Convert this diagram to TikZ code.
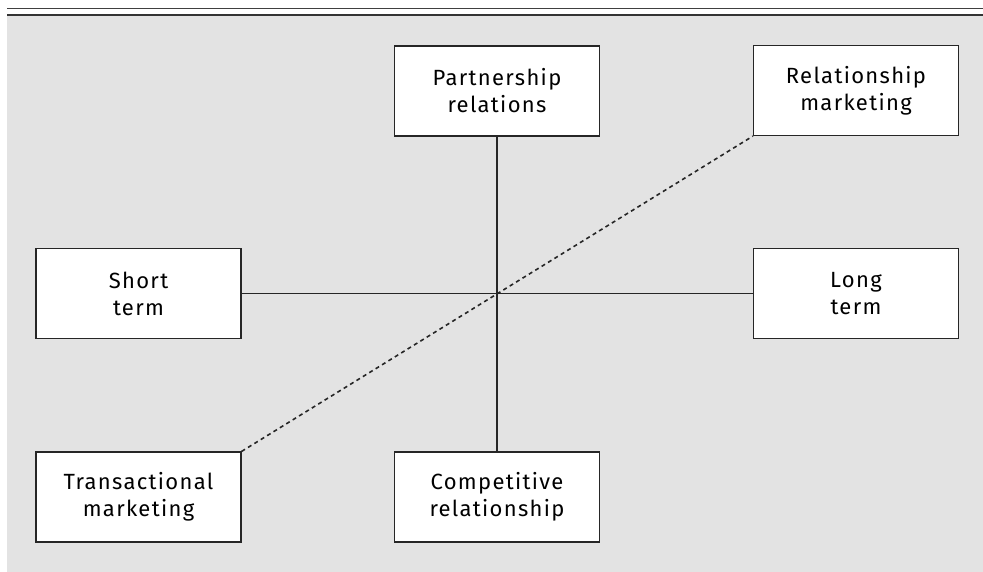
\documentclass[tikz,border=0pt]{standalone}
\usepackage{fontspec}
\setmainfont{Fira Sans}[LetterSpace=6]
\begin{document}
\begin{tikzpicture}[x=1pt,y=-1pt,
  box/.style={draw=black!85,fill=white,line width=1.2pt,minimum width=205pt,
    minimum height=90pt,align=center,inner sep=0pt,
    font=\fontsize{22}{27}\selectfont},
  axis/.style={black!85,line width=1.8pt},
  diag/.style={black!85,line width=1.6pt,dash pattern=on 4pt off 3.5pt}]
  \useasboundingbox (0,0) rectangle (983,572);

  % Background panel and top rules
  \fill[black!11] (7,15) rectangle (983,572);
  \draw[black!75,line width=1.5pt] (7,8.5) -- (983,8.5);
  \draw[black!80,line width=2pt] (7,15) -- (983,15);

  % Boxes
  \node[box] (partner) at (497,91) {Partnership\\relations};
  \node[box] (compet) at (497,497) {Competitive\\relationship};
  \node[box] (short) at (138.5,293.5) {Short\\term};
  \node[box] (long) at (856,293.5) {Long\\term};
  \node[box] (trans) at (138.5,497) {Transactional\\marketing};
  \node[box] (relmkt) at (856,90.5) {Relationship\\marketing};

  % Axes
  \draw[axis] (partner) -- (compet);
  \draw[axis] (short) -- (long);

  % Diagonal
  \draw[diag] (trans.north east) -- (relmkt.south west);
\end{tikzpicture}
\end{document}
